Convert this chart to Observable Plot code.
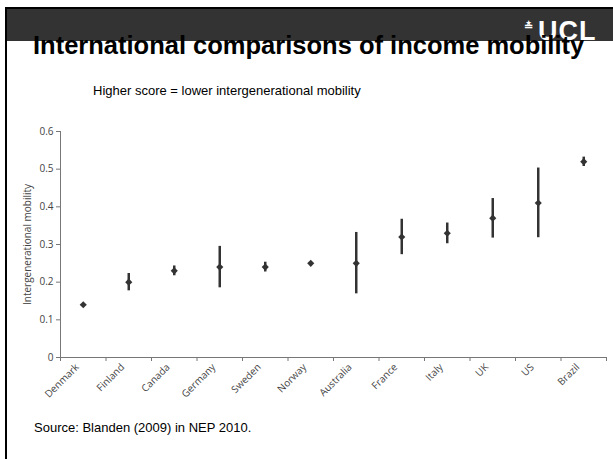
<!DOCTYPE html>
<html>
<head>
<meta charset="utf-8">
<script src="https://cdn.jsdelivr.net/npm/d3@7"></script>
<script src="https://cdn.jsdelivr.net/npm/@observablehq/plot@0.6"></script>
<style>
  html, body { margin: 0; padding: 0; background: #fff; }
  #page { position: relative; width: 613px; height: 459px; overflow: hidden; background: #fff; font-family: "Liberation Sans", Arial, sans-serif; }
  #bar { position: absolute; left: 7px; top: 9px; right: 0; height: 32px; background: #333; }
  #bTop { position: absolute; left: 5px; top: 7px; right: 0; height: 2px; background: #000; }
  #bLeft { position: absolute; left: 5px; top: 7px; width: 2px; bottom: 0; background: #000; }
  #logo { position: absolute; left: 538px; top: 18px; color: #fff; font-weight: bold; font-size: 27px; letter-spacing: 1px; line-height: 27px; }
  #logoMark { position: absolute; left: 524px; top: 20px; color: #fff; font-size: 11px; font-weight: bold; }
  #title { position: absolute; left: 33px; top: 30px; font-weight: bold; font-size: 25.5px; line-height: 30px; color: #000; white-space: nowrap; }
  #subtitle { position: absolute; left: 93px; top: 83px; font-size: 13px; line-height: 16px; color: #000; white-space: nowrap; }
  #source { position: absolute; left: 34px; top: 420px; font-size: 13px; line-height: 16px; color: #000; white-space: nowrap; }
  #chart { position: absolute; left: 0; top: 110px; }
</style>
</head>
<body>
<div id="page">
  <div id="bar"></div>
  <div id="bTop"></div>
  <div id="bLeft"></div>
  <div id="logoMark">≛</div>
  <div id="logo">UCL</div>
  <div id="title">International comparisons of income mobility</div>
  <div id="subtitle">Higher score = lower intergenerational mobility</div>
  <div id="chart"></div>
  <div id="source">Source: Blanden (2009) in NEP 2010.</div>
</div>
<script>
const countries = ["Denmark","Finland","Canada","Germany","Sweden","Norway","Australia","France","Italy","UK","US","Brazil"];
const values = [0.14, 0.20, 0.23, 0.24, 0.24, 0.25, 0.25, 0.32, 0.33, 0.37, 0.41, 0.52];
const lows   = [0.14, 0.177, 0.217, 0.185, 0.227, 0.25, 0.169, 0.273, 0.302, 0.317, 0.318, 0.507];
const highs  = [0.14, 0.223, 0.243, 0.295, 0.253, 0.25, 0.332, 0.367, 0.357, 0.422, 0.503, 0.532];
const yTicks = [0, 0.1, 0.2, 0.3, 0.4, 0.5, 0.6];

const data = countries.map((c, i) => ({country: c, pos: i + 0.5, value: values[i], lo: lows[i], hi: highs[i]}));
const boundaries = d3.range(countries.length + 1);
const centers = countries.map((c, i) => i + 0.5);

const axisColor = "#777";
const textColor = "#444";

const chart = Plot.plot({
  width: 613,
  height: 300,
  marginLeft: 60,
  marginRight: 7,
  marginTop: 21,
  marginBottom: 53,
  style: {fontFamily: "'Open Sans', 'Noto Sans', sans-serif", fontSize: "10px", color: textColor, background: "transparent"},
  x: {type: "linear", domain: [0, countries.length]},
  y: {domain: [0, 0.6]},
  marks: [
    Plot.ruleY([0], {stroke: axisColor, strokeWidth: 1}),
    Plot.ruleX([0], {stroke: axisColor, strokeWidth: 1}),
    Plot.axisY({ticks: yTicks, tickSize: 4, tickPadding: 3, stroke: axisColor, fill: textColor,
      tickFormat: d => d === 0 ? "0" : d.toFixed(1),
      label: "Intergenerational mobility", labelAnchor: "center", labelArrow: "none", labelOffset: 37}),
    Plot.axisX({ticks: boundaries, tickSize: 4, stroke: axisColor, tickFormat: () => "", label: null}),
    Plot.axisX({ticks: centers, tickSize: 0, tickRotate: -45, tickPadding: 8, dx: -6, fill: textColor,
      tickFormat: d => countries[Math.floor(d)], label: null}),
    Plot.ruleX(data, {x: "pos", y1: "lo", y2: "hi", stroke: "#333", strokeWidth: 2.5}),
    Plot.dot(data, {x: "pos", y: "value", symbol: "diamond2", r: 3.2, fill: "#333", stroke: "none"})
  ]
});
document.getElementById("chart").appendChild(chart);
</script>
</body>
</html>
